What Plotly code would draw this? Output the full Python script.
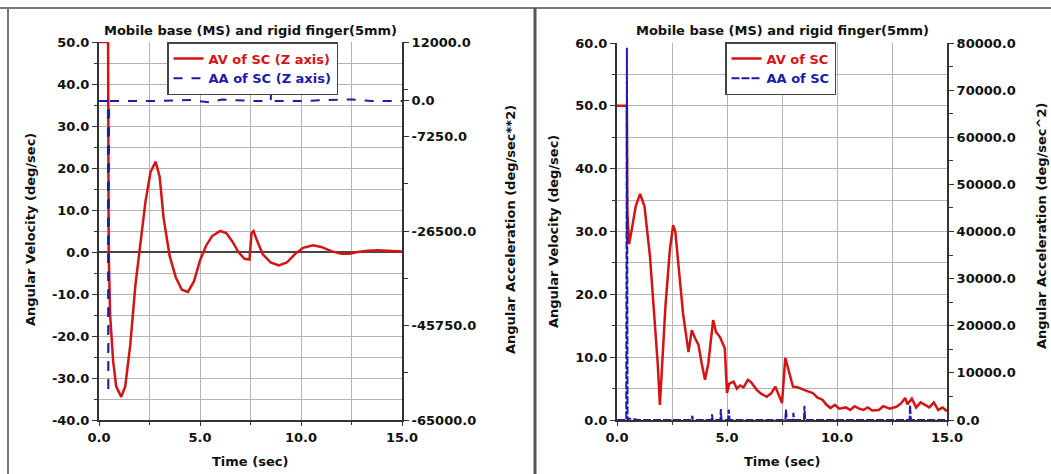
import plotly.graph_objects as go

# ---------------- data ----------------
# Left panel (Z axis)
left_av_t = [0, 0.45, 0.48, 0.55, 0.7, 0.85, 1.1, 1.3, 1.55, 1.8, 2.0, 2.3, 2.55, 2.8,
             3.0, 3.2, 3.5, 3.8, 4.1, 4.4, 4.7, 5.0, 5.3, 5.6, 6.0, 6.3, 6.6, 6.9, 7.2,
             7.45, 7.55, 7.65, 7.8, 8.1, 8.5, 8.9, 9.3, 9.7, 10.1, 10.6, 11.0, 11.5,
             12.0, 12.4, 12.8, 13.3, 13.8, 14.3, 15.0]
left_av_v = [50, 50, 0, -15, -26, -32, -34.5, -32, -22, -8, 0, 12, 19, 21.5,
             18, 8, -1, -6, -9, -9.5, -7, -2, 1.5, 3.8, 5, 4.5, 2.5, 0, -1.6,
             -1.8, 4.5, 5, 3, -0.5, -2.5, -3.2, -2.5, -0.5, 1, 1.6, 1.2, 0.2,
             -0.4, -0.4, 0, 0.3, 0.4, 0.3, 0.1]
left_aa_t = [0, 0.44, 0.46, 0.48, 0.5, 1.0, 3.0, 4.5, 5.5, 6.1, 7.5, 8.5, 8.52, 8.55,
             10.0, 12.5, 13.5, 15.0]
left_aa_v = [0, 0, -59500, -2000, 0, 0, 0, 200, -300, 300, 0, 0, 1600, 0,
             0, 300, 0, 0]

# Right panel
right_av_t = [0, 0.45, 0.47, 0.55, 0.68, 0.85, 1.05, 1.25, 1.5, 1.7, 1.85, 1.95, 2.05,
              2.2, 2.4, 2.55, 2.65, 2.8, 3.0, 3.25, 3.4, 3.55, 3.7, 3.85, 4.0, 4.15,
              4.37, 4.5, 4.68, 4.9, 5.0, 5.1, 5.3, 5.45, 5.6, 5.75, 5.95, 6.1, 6.35,
              6.55, 6.8, 7.0, 7.2, 7.35, 7.5, 7.65, 7.8, 8.0, 8.2, 8.45, 8.65, 8.9,
              9.1, 9.35, 9.5, 9.7, 9.9, 10.1, 10.4, 10.6, 10.8, 11.0, 11.2, 11.4,
              11.6, 11.9, 12.1, 12.4, 12.7, 12.9, 13.1, 13.2, 13.4, 13.6, 13.8, 14.0,
              14.2, 14.4, 14.6, 14.8, 15.0]
right_av_v = [50, 50, 33, 28, 30.5, 34, 36, 34, 26, 17, 9, 2.4, 9,
              18, 27, 31, 30, 24, 17, 10.8, 14.3, 13, 12, 9, 6.4, 9,
              15.9, 14, 13.2, 11.4, 4.3, 5.8, 6.1, 5, 5.5, 5.2, 6.4, 6, 4.8,
              4.2, 3.7, 4.2, 5.3, 4, 2.7, 9.9, 8, 5.3, 5.2, 4.8, 4.6, 4.3,
              3.6, 3.2, 2.5, 1.9, 2.4, 1.8, 2.0, 1.6, 2.2, 1.8, 1.6, 2.0,
              1.5, 1.6, 2.2, 1.8, 2.1, 2.6, 3.5, 2.5, 3.4, 2.0, 2.8, 2.4,
              2.0, 2.8, 1.6, 2.0, 1.4]
right_aa_t = [0, 0.42, 0.45, 0.48, 0.55, 1.0, 2.0, 3.4, 3.42, 3.45, 4.3, 4.32, 4.35,
              4.7, 4.72, 4.75, 5.05, 5.08, 5.12, 7.65, 7.68, 7.72, 8.0, 8.02, 8.05,
              8.5, 8.52, 8.55, 10.0, 12.0, 13.3, 13.32, 13.36, 15.0]
right_aa_v = [0, 0, 79000, 0, 300, 0, 0, 0, 900, 0, 0, 1200, 0,
              0, 2300, 0, 0, 2200, 0, 0, 2200, 0, 0, 1500, 0,
              0, 3000, 0, 0, 0, 0, 3200, 0, 0]

# ticks
x_ticks = [0, 5, 10, 15]
left_y_ticks = [-40, -30, -20, -10, 0, 10, 20, 30, 40, 50]
left_y2_ticks = [12000, 0, -7250, -26500, -45750, -65000]
left_y2_minor = [2375, -16875, -36125, -55375]
right_y_ticks = [0, 10, 20, 30, 40, 50, 60]
right_y2_ticks = [0, 10000, 20000, 30000, 40000, 50000, 60000, 70000, 80000]

title_text = "Mobile base (MS) and rigid finger(5mm)"
RED = "#d41414"
BLUE = "#1c1ca8"
FONT = "DejaVu Sans, Verdana, sans-serif"

W, H = 1051, 474


def px(x):
    return x / W


def py(y):
    return 1 - y / H


def fmt(v):
    return f"{v:.1f}"


fig = go.Figure()

fig.add_trace(go.Scatter(x=left_av_t, y=left_av_v, mode="lines", xaxis="x", yaxis="y",
                         line=dict(color=RED, width=2.5),
                         name=f"<span style='color:{RED}'>AV of SC (Z axis)</span>",
                         legend="legend"))
fig.add_trace(go.Scatter(x=left_aa_t, y=left_aa_v, mode="lines", xaxis="x", yaxis="y2",
                         line=dict(color=BLUE, width=2, dash="dash"),
                         name=f"<span style='color:{BLUE}'>AA of SC (Z axis)</span>",
                         legend="legend"))
fig.add_trace(go.Scatter(x=right_av_t, y=right_av_v, mode="lines", xaxis="x2", yaxis="y3",
                         line=dict(color=RED, width=2.5),
                         name=f"<span style='color:{RED}'>AV of SC</span>",
                         legend="legend2"))
fig.add_trace(go.Scatter(x=right_aa_t, y=right_aa_v, mode="lines", xaxis="x2", yaxis="y4",
                         line=dict(color=BLUE, width=2, dash="8px,2px"),
                         name=f"<span style='color:{BLUE}'>AA of SC</span>",
                         legend="legend2"))

tickfont = dict(family=FONT, size=13, color="#111", weight="bold")
grid_c = "#b4b4b4"
axis_c = "#333"

xcommon = dict(range=[0, 15], tickvals=x_ticks, ticktext=[fmt(v) for v in x_ticks],
               showline=True, linecolor=axis_c, linewidth=2, ticks="outside", ticklen=4,
               tickcolor=axis_c, showgrid=True, gridcolor=grid_c, gridwidth=1,
               minor=dict(tickvals=[2.5, 7.5, 12.5], showgrid=True, gridcolor=grid_c,
                          ticks="outside", ticklen=3, tickcolor=axis_c),
               tickfont=tickfont, zeroline=False, fixedrange=True, automargin=False)

L_top, L_bot = 42, 420
R_top, R_bot = 43, 420

fig.update_layout(
    width=W, height=H,
    margin=dict(l=0, r=0, t=0, b=0, autoexpand=False),
    paper_bgcolor="white", plot_bgcolor="white",
    xaxis=dict(domain=[px(99), px(402)], anchor="y", **xcommon),
    xaxis2=dict(domain=[px(617), px(947)], anchor="y3", **xcommon),
    yaxis=dict(domain=[py(L_bot), py(L_top)], anchor="x", range=[-40, 50],
               tickvals=left_y_ticks, ticktext=[fmt(v) for v in left_y_ticks],
               showline=True, linecolor=axis_c, linewidth=2, ticks="outside", ticklen=5,
               tickcolor=axis_c, showgrid=True, gridcolor=grid_c,
               minor=dict(dtick=5, tick0=0, showgrid=True, gridcolor=grid_c,
                          ticks="outside", ticklen=3, tickcolor=axis_c),
               zeroline=True, zerolinecolor="#444", zerolinewidth=1.5,
               tickfont=tickfont, fixedrange=True, automargin=False),
    yaxis2=dict(anchor="x", overlaying="y", side="right", range=[-65000, 12000],
                tickvals=left_y2_ticks, ticktext=[fmt(v) for v in left_y2_ticks],
                showline=True, linecolor=axis_c, linewidth=2, ticks="outside", ticklen=5,
                tickcolor=axis_c, showgrid=False, zeroline=False,
                minor=dict(tickvals=left_y2_minor, ticks="outside", ticklen=4,
                           tickcolor=axis_c, showgrid=False),
                tickfont=tickfont, fixedrange=True, automargin=False),
    yaxis3=dict(domain=[py(R_bot), py(R_top)], anchor="x2", range=[0, 60],
                tickvals=right_y_ticks, ticktext=[fmt(v) for v in right_y_ticks],
                showline=True, linecolor=axis_c, linewidth=2, ticks="outside", ticklen=5,
                tickcolor=axis_c, showgrid=True, gridcolor=grid_c,
                minor=dict(dtick=5, tick0=0, showgrid=True, gridcolor=grid_c,
                           ticks="outside", ticklen=3, tickcolor=axis_c),
                zeroline=False, tickfont=tickfont, fixedrange=True, automargin=False),
    yaxis4=dict(anchor="x2", overlaying="y3", side="right", range=[0, 80000],
                tickvals=right_y2_ticks, ticktext=[fmt(v) for v in right_y2_ticks],
                showline=True, linecolor=axis_c, linewidth=2, ticks="outside", ticklen=5,
                tickcolor=axis_c, showgrid=False, zeroline=False,
                minor=dict(dtick=5000, tick0=0, ticks="outside", ticklen=4,
                           tickcolor=axis_c, showgrid=False),
                tickfont=tickfont, fixedrange=True, automargin=False),
    legend=dict(x=px(167), y=py(42), xanchor="left", yanchor="top",
                bgcolor="white", bordercolor="#444", borderwidth=1.5,
                font=dict(family=FONT, size=13, weight="bold"),
                tracegroupgap=0, itemwidth=30),
    legend2=dict(x=px(725), y=py(42), xanchor="left", yanchor="top",
                 bgcolor="white", bordercolor="#444", borderwidth=1.5,
                 font=dict(family=FONT, size=13, weight="bold"),
                 tracegroupgap=0, itemwidth=30),
    showlegend=True,
)

annfont = dict(family=FONT, size=13, color="#111", weight="bold")
anns = [
    dict(x=px(250), y=py(30), text=title_text, textangle=0),
    dict(x=px(782), y=py(30), text=title_text, textangle=0),
    dict(x=px(250), y=py(461), text="Time (sec)", textangle=0),
    dict(x=px(782), y=py(461), text="Time (sec)", textangle=0),
    dict(x=px(30), y=py(230), text="Angular Velocity (deg/sec)", textangle=-90),
    dict(x=px(553), y=py(232), text="Angular Velocity (deg/sec)", textangle=-90),
    dict(x=px(510), y=py(230), text="Angular Acceleration (deg/sec**2)", textangle=-90),
    dict(x=px(1042), y=py(226), text="Angular Acceleration (deg/sec^2)", textangle=-90),
]
for a in anns:
    fig.add_annotation(xref="paper", yref="paper", showarrow=False, font=annfont,
                       xanchor="center", yanchor="middle", **a)

# panel frames
frame_c = "#777"
fig.add_shape(type="line", xref="paper", yref="paper", x0=0, x1=1, y0=py(8), y1=py(8),
              line=dict(color=frame_c, width=2))
fig.add_shape(type="line", xref="paper", yref="paper", x0=px(8), x1=px(8), y0=0, y1=py(8),
              line=dict(color=frame_c, width=2))
fig.add_shape(type="line", xref="paper", yref="paper", x0=px(535), x1=px(535), y0=0, y1=py(8),
              line=dict(color="#555", width=3))

# the page body has a default 8px margin; remove it so the figure fills the window
fig.write_html("out.html",
               config={"displayModeBar": False},
               post_script="document.body.style.margin='0';document.body.style.overflow='hidden';")
